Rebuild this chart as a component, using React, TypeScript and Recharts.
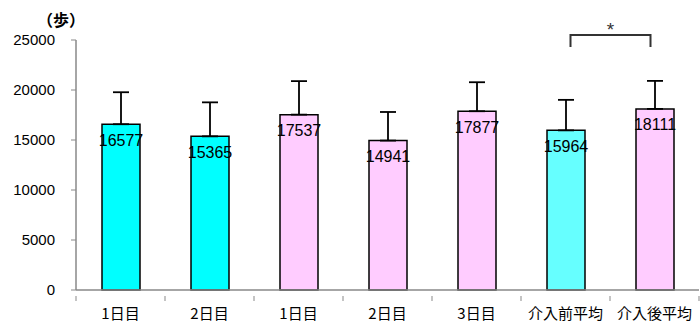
import React from 'react';
import {
  BarChart, Bar, XAxis, YAxis, Cell, ErrorBar, LabelList, ReferenceLine,
} from 'recharts';

// カテゴリーと値
const categories = ['1日目', '2日目', '1日目 ', '2日目 ', '3日目', '介入前平均', '介入後平均'];
const steps = [16577, 15365, 17537, 14941, 17877, 15964, 18111];
const sdUpper = [3200, 3400, 3350, 2860, 2900, 3050, 2800];
const barColors = ['#00FFFF', '#00FFFF', '#FFCCFF', '#FFCCFF', '#FFCCFF', '#66FFFF', '#FFCCFF'];
const yTicks = [0, 5000, 10000, 15000, 20000, 25000];

// 有意差ブラケット
const bracketFrom = '介入前平均';
const bracketTo = '介入後平均';
const bracketTop = 25500;
const bracketMark = '*';

const data = categories.map((name, i) => ({
  name,
  steps: steps[i],
  err: [0, sdUpper[i]],
}));

const AXIS = '#898989';
const FONT = '"Liberation Sans", Arial, "Noto Sans CJK JP", sans-serif';
const JP = '"Noto Sans CJK JP", sans-serif';

// 目盛り線をカテゴリーの境界に描く
const CategoryTick = (props: any) => {
  const { x, y, payload, index, visibleTicksCount } = props;
  const half = payload.offset || 0;
  const isLast = index === (visibleTicksCount ?? categories.length) - 1;
  return (
    <g>
      <line x1={x - half} x2={x - half} y1={y - 12} y2={y - 7} stroke={AXIS} strokeWidth={1} />
      {isLast && <line x1={x + half} x2={x + half} y1={y - 12} y2={y - 7} stroke={AXIS} strokeWidth={1} />}
      <text x={x} y={y} dy="0.71em" textAnchor="middle" fill="#000" fontSize={15} fontFamily={JP}>
        {String(payload.value).trim()}
      </text>
    </g>
  );
};

const Bracket = (props: any) => {
  const { x1, x2, y1 } = props;
  const l = Math.min(x1, x2) + 5;
  const r = Math.max(x1, x2) - 4;
  return (
    <g>
      <path d={`M${l},${y1 + 12} V${y1} H${r} V${y1 + 12}`} fill="none" stroke="#333" strokeWidth={2} />
      <text x={(l + r) / 2} y={y1 + 1} textAnchor="middle" fill="#333" fontSize={19} fontFamily={FONT}>
        {bracketMark}
      </text>
    </g>
  );
};

export default function App() {
  return (
    <div style={{ position: 'absolute', left: 0, top: 0, width: 700, height: 322, background: '#fff', fontFamily: FONT }}>
      <div style={{ position: 'absolute', left: 37, top: 7, fontSize: 16, fontWeight: 'bold', color: '#000', fontFamily: JP }}>
        （歩）
      </div>
      <BarChart
        width={700}
        height={322}
        data={data}
        margin={{ top: 40, right: 1, left: 0, bottom: 0 }}
        barSize={38}
      >
        <XAxis
          dataKey="name"
          height={32}
          axisLine={{ stroke: AXIS, strokeWidth: 1.5 }}
          tickLine={false}
          tickMargin={12}
          tick={<CategoryTick />}
          interval={0}
        />
        <YAxis
          width={76}
          domain={[0, 25000]}
          ticks={yTicks}
          axisLine={{ stroke: AXIS, strokeWidth: 1.5 }}
          tickLine={{ stroke: AXIS }}
          tickSize={5}
          tickMargin={16}
          tick={{ fill: '#000', fontSize: 15, fontFamily: FONT }}
        />
        <Bar dataKey="steps" stroke="#000" strokeWidth={1.5} isAnimationActive={false}>
          {data.map((d, i) => (
            <Cell key={`cell-${i}`} fill={barColors[i]} />
          ))}
          <ErrorBar dataKey="err" direction="y" width={8} stroke="#000" strokeWidth={1.8} />
          <LabelList dataKey="steps" position="insideTop" offset={10} fill="#000" fontSize={16} fontFamily={FONT} />
        </Bar>
        <ReferenceLine
          ifOverflow="visible"
          segment={[{ x: bracketFrom, y: bracketTop }, { x: bracketTo, y: bracketTop }]}
          shape={<Bracket />}
        />
      </BarChart>
    </div>
  );
}
